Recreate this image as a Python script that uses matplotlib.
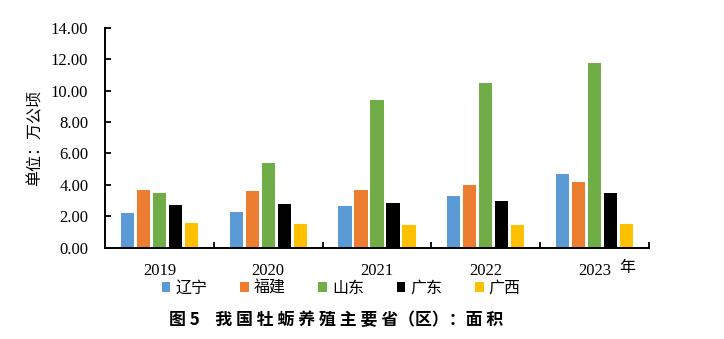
import matplotlib
matplotlib.use("Agg")
import matplotlib.pyplot as plt
from matplotlib.patches import Patch
from matplotlib.ticker import FixedLocator, FormatStrFormatter
import numpy as np

plt.rcParams['font.family'] = ['Liberation Serif', 'Noto Sans CJK SC', 'DejaVu Sans']

years = ["2019", "2020", "2021", "2022", "2023"]
provinces = ["辽宁", "福建", "山东", "广东", "广西"]
liaoning = [2.22, 2.26, 2.64, 3.27, 4.67]
fujian = [3.67, 3.59, 3.65, 3.97, 4.16]
shandong = [3.49, 5.37, 9.43, 10.51, 11.79]
guangdong = [2.73, 2.76, 2.83, 2.95, 3.46]
guangxi = [1.59, 1.49, 1.43, 1.43, 1.49]
colors = ["#5B9BD5", "#ED7D31", "#70AD47", "#000000", "#FFC000"]

series = [liaoning, fujian, shandong, guangdong, guangxi]

fig = plt.figure(figsize=(7.24, 3.39), dpi=100)
ax = fig.add_axes([105 / 724, 1 - 247.5 / 339, 544 / 724, (247.5 - 28) / 339])

x = np.arange(len(years))
pitch = 0.147
width = 0.12
for i, (vals, c) in enumerate(zip(series, colors)):
    ax.bar(x + (i - 2) * pitch, vals, width=width, color=c, label=provinces[i], zorder=2)

ax.set_xlim(-0.5, len(years) - 0.5)
ax.set_ylim(0, 14)
ax.yaxis.set_major_locator(FixedLocator(np.arange(0, 14.01, 2)))
ax.yaxis.set_major_formatter(FormatStrFormatter("%.2f"))

# category labels at centres, separator ticks on group boundaries
ax.set_xticks(x)
ax.set_xticklabels(years)
ax.tick_params(axis='x', which='major', length=0, pad=11, labelsize=12)
ax.set_xticks(np.arange(0.5, len(years), 1), minor=True)
ax.tick_params(axis='x', which='minor', direction='in', length=4, width=1.3)
ax.tick_params(axis='y', direction='in', length=4, width=1.3, labelsize=12, pad=12)

for s in ['top', 'right']:
    ax.spines[s].set_visible(False)
for s in ['left', 'bottom']:
    ax.spines[s].set_linewidth(1.4)

ax.text(4.3, -0.092, "年", transform=ax.get_xaxis_transform(), ha='center', va='center',
        fontsize=11.5, family=['Noto Sans CJK SC'])

ax.set_ylabel("单位：万公顷", family=['Noto Sans CJK SC'], fontsize=11.5, labelpad=5)

handles = [Patch(facecolor=c, label=p) for c, p in zip(colors, provinces)]
leg = fig.legend(handles=handles, loc='center', bbox_to_anchor=(341 / 724, 1 - 288 / 339),
                 ncol=5, frameon=False, handlelength=0.55, handleheight=0.55,
                 handletextpad=0.3, columnspacing=2.05,
                 prop={'family': 'Noto Sans CJK SC', 'size': 11.5})

fig.text(336 / 724, 1 - 320 / 339, "图 5    我 国 牡 蛎 养 殖 主 要 省（区）：面 积",
         ha='center', va='center', fontsize=12.2, fontweight='bold', family=['Noto Sans CJK SC'])

fig.savefig("out.png", dpi=100)
